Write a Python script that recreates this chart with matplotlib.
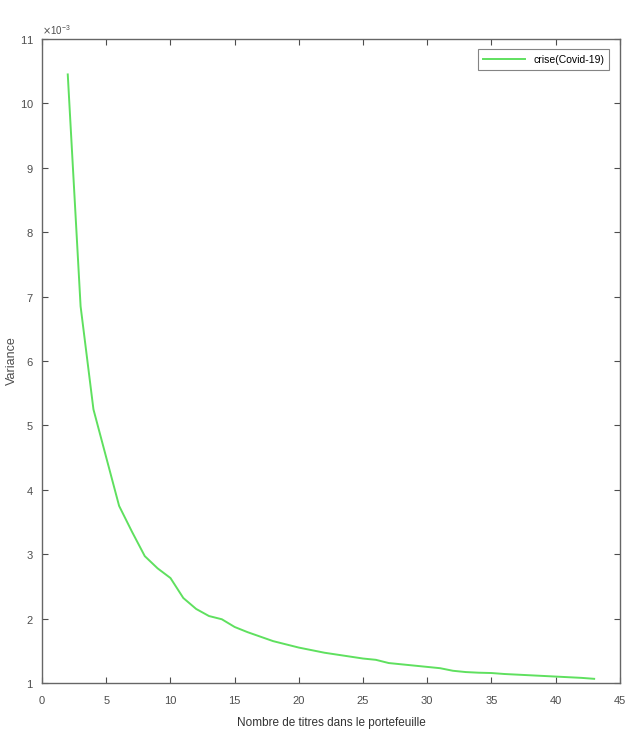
import numpy as np
from matplotlib import pyplot as plt
from matplotlib.ticker import ScalarFormatter

# number of assets in the portfolio
n_assets = list(range(2, 44))
# portfolio variance (x 1e-3)
variance_e3 = [
    10.45, 6.85, 5.25, 4.50, 3.75, 3.35, 2.97, 2.78, 2.63, 2.32,
    2.15, 2.04, 1.99, 1.87, 1.79, 1.72, 1.65, 1.60, 1.55, 1.51,
    1.47, 1.44, 1.41, 1.38, 1.36, 1.31, 1.29, 1.27, 1.25, 1.23,
    1.19, 1.17, 1.16, 1.155, 1.14, 1.13, 1.12, 1.11, 1.10, 1.09,
    1.08, 1.065,
]
series_label = "crise(Covid-19)"
y_ticks_e3 = list(range(1, 12))
x_ticks = list(range(0, 46, 5))


class MilliFormatter(ScalarFormatter):
    """Force the x10^-3 offset like MATLAB does."""

    def _set_order_of_magnitude(self):
        self.orderOfMagnitude = -3


plt.rcParams["font.family"] = ["Liberation Sans", "DejaVu Sans"]

fig = plt.figure(figsize=(6.28, 7.36), dpi=100)
ax = fig.add_axes([0.067, 0.072, 0.92, 0.875])

variance = np.array(variance_e3) * 1e-3
ax.plot(n_assets, variance, color="#5fe05f", linewidth=1.4, label=series_label)

ax.set_xlim(0, 45)
ax.set_ylim(1e-3, 11e-3)
ax.set_xticks(x_ticks)
ax.set_yticks(np.array(y_ticks_e3) * 1e-3)

fmt = MilliFormatter(useMathText=True, useOffset=False)
ax.yaxis.set_major_formatter(fmt)
ax.yaxis.get_offset_text().set_fontsize(7)
ax.yaxis.get_offset_text().set_color("0.3")

ax.tick_params(direction="in", top=True, right=True, labelsize=8,
               colors="0.3", length=4, width=0.8)
ax.tick_params(axis="y", pad=6)
ax.tick_params(axis="x", pad=9)
for sp in ax.spines.values():
    sp.set_color("0.4")
    sp.set_linewidth(1.0)

ax.set_xlabel("Nombre de titres dans le portefeuille", fontsize=8.5, color="0.2", labelpad=8)
ax.set_ylabel("Variance", fontsize=9, color="0.3", labelpad=1)

leg = ax.legend(loc="upper right", fontsize=7.5, handlelength=4, fancybox=False,
                borderaxespad=1.0, borderpad=0.5)
leg.get_frame().set_edgecolor("0.4")
leg.get_frame().set_linewidth(0.8)

fig.savefig("out.png", dpi=100)
